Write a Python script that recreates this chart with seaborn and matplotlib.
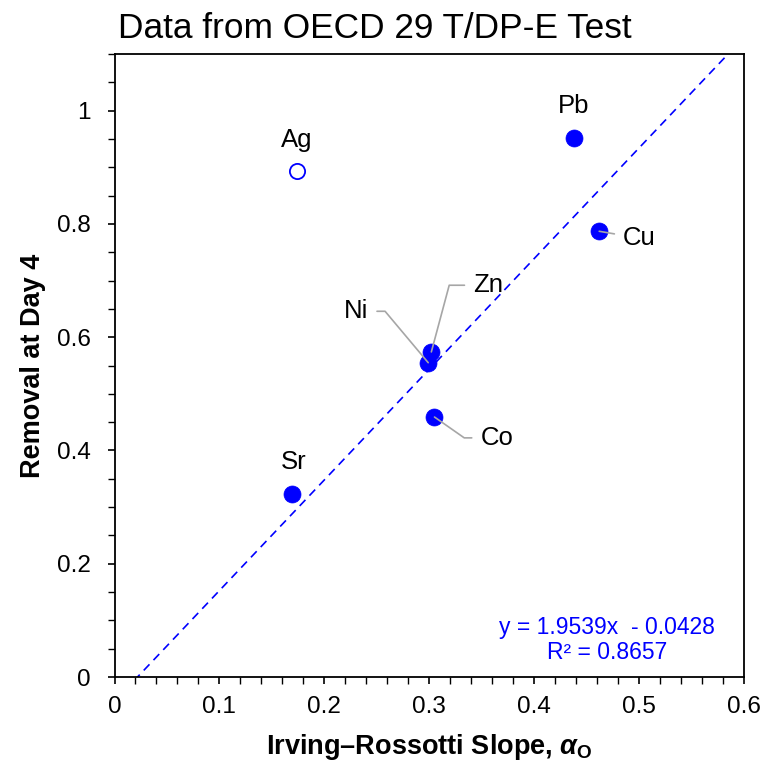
import numpy as np
import pandas as pd
import matplotlib
matplotlib.use("Agg")
import matplotlib.pyplot as plt
import seaborn as sns
from matplotlib.ticker import MultipleLocator

### Dados
metais = ["Pb", "Cu", "Zn", "Ni", "Co", "Sr"]
inclinacao = [0.438, 0.462, 0.302, 0.299, 0.305, 0.169]
remocao = [0.952, 0.787, 0.574, 0.555, 0.459, 0.323]

# Ag fica fora do ajuste (marcador aberto)
metal_fora = ["Ag"]
inclinacao_fora = [0.174]
remocao_fora = [0.894]

# linha de tendência do gráfico
coef_a, coef_b = 1.9539, -0.0428
r2 = 0.8657
x_linha = [0.0, 0.6]

### Estilo
sns.set_theme(style="ticks")
plt.rcParams["font.family"] = ["Liberation Sans", "DejaVu Sans"]
plt.rcParams["mathtext.fontset"] = "custom"
plt.rcParams["mathtext.rm"] = "Liberation Sans:bold"
plt.rcParams["mathtext.it"] = "Liberation Sans:italic:bold"
for chave in ["text.color", "axes.labelcolor", "xtick.color", "ytick.color", "axes.edgecolor"]:
    plt.rcParams[chave] = "black"

dados = pd.DataFrame({"Metal": metais, "x": inclinacao, "y": remocao})
fora = pd.DataFrame({"Metal": metal_fora, "x": inclinacao_fora, "y": remocao_fora})
linha = pd.DataFrame({"x": x_linha, "y": [coef_a * v + coef_b for v in x_linha]})

fig = plt.figure(figsize=(7.65, 7.62), dpi=100)
ax = fig.add_axes([114.5 / 765, 85 / 762, 629.5 / 765, 623 / 762])

azul = "#0000ff"
sns.lineplot(data=linha, x="x", y="y", ax=ax, color=azul, lw=1.2,
             linestyle=(0, (5, 3.5)), zorder=2)
sns.scatterplot(data=dados, x="x", y="y", ax=ax, color=azul, s=150,
                edgecolor=azul, linewidth=0.5, zorder=3)
sns.scatterplot(data=fora, x="x", y="y", ax=ax, facecolor="white", s=120,
                edgecolor=azul, linewidth=1.3, zorder=3)

ax.set_xlim(0, 0.6)
ax.set_ylim(0, 1.1)
ax.xaxis.set_minor_locator(MultipleLocator(0.02))
ax.yaxis.set_minor_locator(MultipleLocator(0.05))
ax.set_xticks(np.arange(0, 0.61, 0.1))
ax.set_xticklabels(["0", "0.1", "0.2", "0.3", "0.4", "0.5", "0.6"])
ax.set_yticks(np.arange(0, 1.01, 0.2))
ax.set_yticklabels(["0", "0.2", "0.4", "0.6", "0.8", "1"])
ax.tick_params(which="both", direction="out", length=5, width=1.2, color="black",
               labelsize=17.5)
ax.tick_params(axis="x", pad=9)
ax.tick_params(axis="y", pad=12)
ax.tick_params(which="minor", width=1)
for lado in ax.spines.values():
    lado.set_linewidth(1.3)

ax.set_xlabel(r"Irving–Rossotti Slope, $\it{\alpha}_{\rm{O}}$", fontsize=19.5,
              fontweight="bold", labelpad=10)
ax.set_ylabel("Removal at Day 4", fontsize=19.5, fontweight="bold", labelpad=8)

### Rótulos dos metais (deslocamentos em pontos)
cinza = "#a6a6a6"
def rotulo(metal, x, y, dx, dy, conexao=None):
    props = None
    if conexao is not None:
        props = dict(arrowstyle="-", color=cinza, lw=1.2, shrinkA=4, shrinkB=0,
                     connectionstyle=conexao)
    ax.annotate(metal, xy=(x, y), xytext=(dx, dy), textcoords="offset points",
                ha="center", va="center", fontsize=18.5, arrowprops=props, zorder=4)

rotulo("Ag", inclinacao_fora[0], remocao_fora[0], 0, 22)
rotulo("Pb", inclinacao[0], remocao[0], 0, 23)
rotulo("Cu", inclinacao[1], remocao[1], 29, -5, "arc3")
rotulo("Zn", inclinacao[2], remocao[2], 41, 48, "angle,angleA=0,angleB=75,rad=0")
rotulo("Ni", inclinacao[3], remocao[3], -52, 37, "angle,angleA=0,angleB=130,rad=0")
rotulo("Co", inclinacao[4], remocao[4], 45, -15, "angle,angleA=0,angleB=-35,rad=0")
rotulo("Sr", inclinacao[5], remocao[5], 1, 23)

ax.text(0.782, 0.06, f"y = {coef_a}x  - {abs(coef_b)}\nR² = {r2}", transform=ax.transAxes,
        ha="center", va="center", fontsize=16.5, color=azul, linespacing=1.1)

fig.text(118 / 765, 1 - 28 / 762, "Data from OECD 29 T/DP-E Test", fontsize=25.4,
         ha="left", va="center")

fig.savefig("out.png", dpi=100)
